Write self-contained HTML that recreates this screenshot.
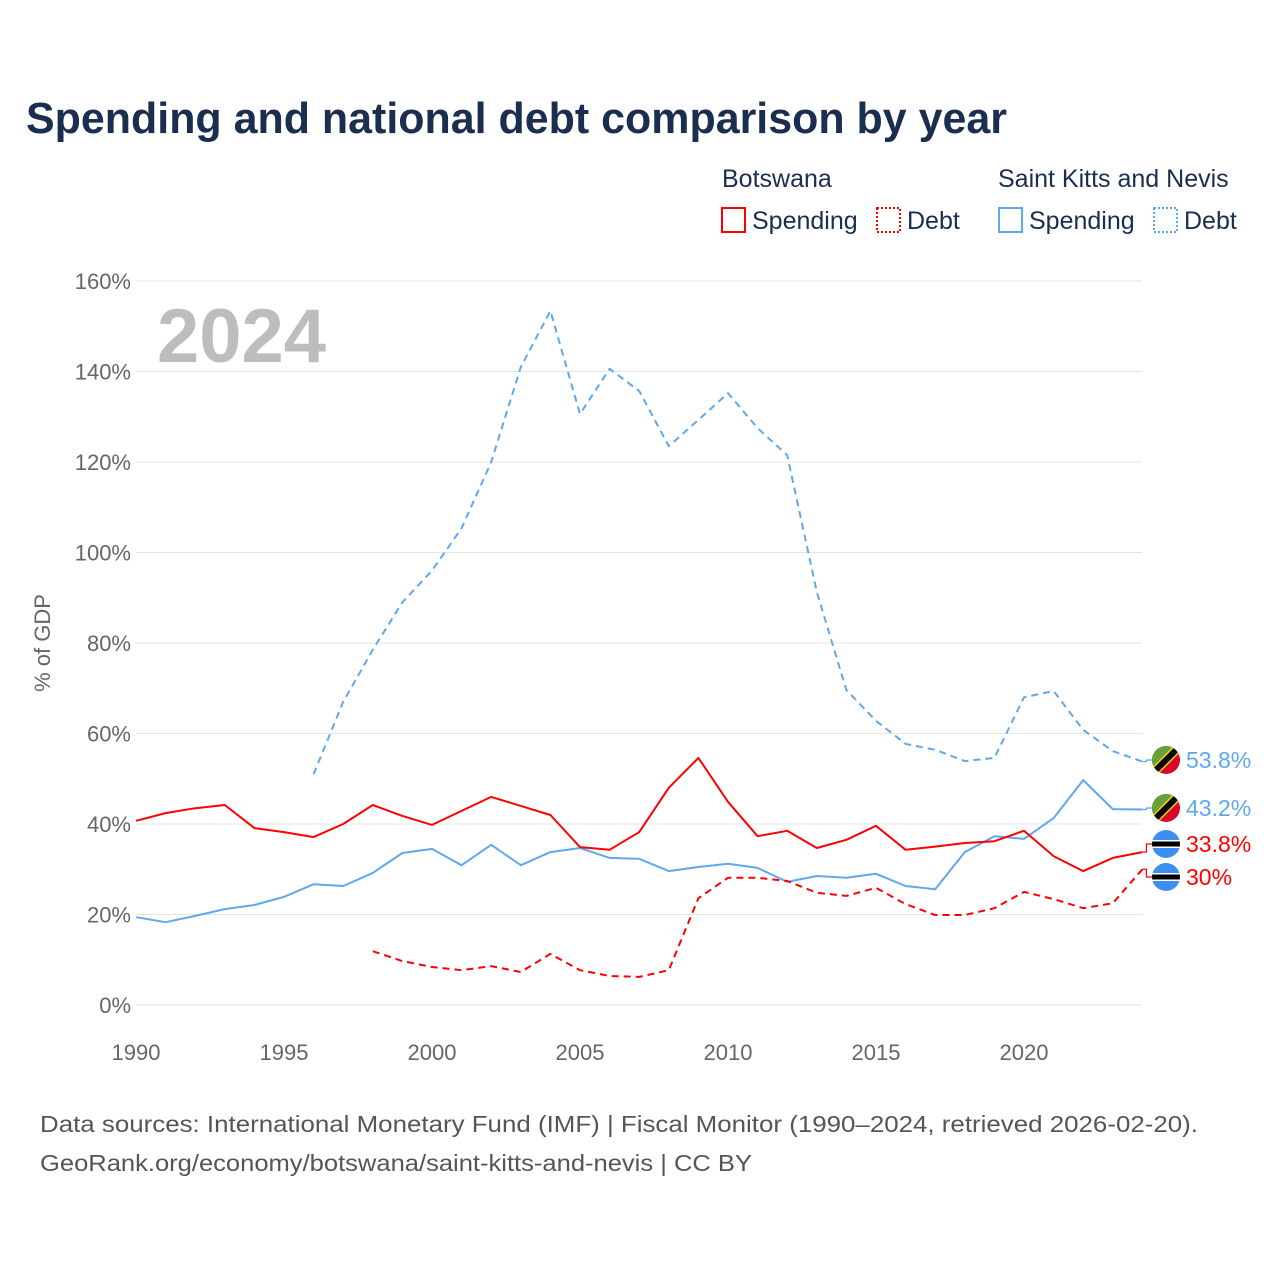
<!DOCTYPE html>
<html><head><meta charset="utf-8">
<style>
body{margin:0;background:#fff;font-family:"Liberation Sans",sans-serif;}
#wrap{position:relative;width:1280px;height:1280px;overflow:hidden;}
</style></head>
<body>
<div id="wrap">
<svg id="chart" width="1280" height="1280" xmlns="http://www.w3.org/2000/svg">
<text x="26" y="133" font-size="44" font-weight="bold" fill="#1a2e4f" textLength="981" lengthAdjust="spacingAndGlyphs">Spending and national debt comparison by year</text>
<g font-size="25" fill="#1a2e4f">
<text x="722" y="187">Botswana</text>
<text x="998" y="187">Saint Kitts and Nevis</text>
<g><rect x="722" y="208" width="23" height="24" fill="none" stroke="#ff0000" stroke-width="2"/><text x="752" y="229">Spending</text></g>
<g><rect x="877" y="208" width="23" height="24" fill="none" stroke="#ff0000" stroke-width="2" stroke-dasharray="2,2"/><text x="907" y="229">Debt</text></g>
<g><rect x="999" y="208" width="23" height="24" fill="none" stroke="#5fa8ef" stroke-width="2"/><text x="1029" y="229">Spending</text></g>
<g><rect x="1154" y="208" width="23" height="24" fill="none" stroke="#5fa8ef" stroke-width="2" stroke-dasharray="2,2"/><text x="1184" y="229">Debt</text></g>
</g>
<text x="157" y="362" font-size="76" font-weight="bold" fill="#bdbdbd">2024</text>
<text transform="translate(50,643) rotate(-90)" text-anchor="middle" font-size="22" fill="#666">% of GDP</text>
<g id="grid"></g><g id="series"></g><g id="labels"></g>
<g font-size="23" fill="#555">
<text x="40" y="1132" textLength="1158" lengthAdjust="spacingAndGlyphs">Data sources: International Monetary Fund (IMF) | Fiscal Monitor (1990–2024, retrieved 2026-02-20).</text>
<text x="40" y="1171" textLength="712" lengthAdjust="spacingAndGlyphs">GeoRank.org/economy/botswana/saint-kitts-and-nevis | CC BY</text>
</g>
</svg>
</div>
<script>
const years=[];for(let y=1990;y<=2024;y++)years.push(y);
const xTicks=[1990,1995,2000,2005,2010,2015,2020];
const yTicks=[0,20,40,60,80,100,120,140,160];
const bwSpending=[40.7,42.4,43.5,44.2,39.1,38.2,37.1,40,44.2,41.8,39.8,42.9,46,44,42,34.9,34.3,38.2,48,54.6,44.9,37.3,38.5,34.7,36.5,39.6,34.3,35,35.8,36.2,38.5,32.9,29.6,32.5,33.8];
const sknSpending=[19.4,18.3,19.7,21.2,22.1,23.9,26.7,26.3,29.2,33.6,34.5,30.9,35.4,30.9,33.8,34.7,32.5,32.3,29.6,30.5,31.2,30.3,27.2,28.5,28.1,29,26.3,25.6,33.8,37.3,36.7,41.3,49.7,43.3,43.2];
const bwDebtYears=[1998,1999,2000,2001,2002,2003,2004,2005,2006,2007,2008,2009,2010,2011,2012,2013,2014,2015,2016,2017,2018,2019,2020,2021,2022,2023,2024];
const bwDebt=[11.9,9.7,8.4,7.7,8.6,7.3,11.3,7.7,6.4,6.2,7.7,23.6,28.1,28.1,27.4,24.8,24.1,25.9,22.3,19.9,19.9,21.4,25,23.4,21.4,22.5,30];
const sknDebtYears=[1996,1997,1998,1999,2000,2001,2002,2003,2004,2005,2006,2007,2008,2009,2010,2011,2012,2013,2014,2015,2016,2017,2018,2019,2020,2021,2022,2023,2024];
const sknDebt=[51,67,78.5,89,96,105.4,120,141,153.4,130.6,140.6,135.7,123.5,129.3,135.2,127.5,121.5,91.3,69.6,62.8,57.7,56.4,53.9,54.6,68,69.4,60.8,56.1,53.8];

const NS='http://www.w3.org/2000/svg';
const X=y=>136+(y-1990)*(888/30);
const Y=v=>1005-v*(724/160);
function mk(tag,attrs,parent){const e=document.createElementNS(NS,tag);for(const k in attrs)e.setAttribute(k,attrs[k]);parent.appendChild(e);return e;}
const grid=document.getElementById('grid'),series=document.getElementById('series'),labels=document.getElementById('labels');
yTicks.forEach(v=>{
  const l=mk('line',{x1:136,x2:1142,y1:Y(v),y2:Y(v),stroke:'#e4e4e4','stroke-width':1},grid);
  
  
  const t=mk('text',{x:131,y:Y(v)+8,'text-anchor':'end','font-size':22,fill:'#666'},grid);
  t.textContent=v+'%';
  
  
});
xTicks.forEach(yr=>{
  const t=mk('text',{x:X(yr),y:1060,'text-anchor':'middle','font-size':22,fill:'#666'},grid);
  t.textContent=yr;
  
  
});
function line(xs,vs,color,dash,name){
  const d=vs.map((v,i)=>(i?'L':'M')+X(xs[i]).toFixed(1)+','+Y(v).toFixed(1)).join(' ');
  const p=mk('path',{d:d,fill:'none',stroke:color,'stroke-width':2,'stroke-linejoin':'round'},series);
  if(dash)p.setAttribute('stroke-dasharray','7,5');
  
  
}
line(sknDebtYears,sknDebt,'#5fa8ef',true,'skn-debt-line');
line(years,sknSpending,'#5fa8ef',false,'skn-spending-line');
line(bwDebtYears,bwDebt,'#ff0000',true,'bw-debt-line');
line(years,bwSpending,'#ff0000',false,'bw-spending-line');

function flag(cy,type,name){
  const cx=1166,r=14;
  const g=mk('g',{},labels);
  
  
  const id='c'+Math.round(cy);
  const cp=mk('clipPath',{id:id},g);mk('circle',{cx:cx,cy:cy,r:r},cp);
  const inner=mk('g',{'clip-path':'url(#'+id+')'},g);
  if(type==='skn'){
    mk('rect',{x:cx-r,y:cy-r,width:2*r,height:2*r,fill:'#d7062b'},inner);
    mk('polygon',{points:`${cx-r},${cy-r} ${cx+r},${cy-r} ${cx-r},${cy+r}`,fill:'#6b9f3e'},inner);
    mk('line',{x1:cx+r,y1:cy-r,x2:cx-r,y2:cy+r,stroke:'#f5d400','stroke-width':9},inner);
    mk('line',{x1:cx+r,y1:cy-r,x2:cx-r,y2:cy+r,stroke:'#000','stroke-width':6},inner);
  } else {
    mk('rect',{x:cx-r,y:cy-r,width:2*r,height:2*r,fill:'#3b8ff0'},inner);
    mk('rect',{x:cx-r,y:cy-4,width:2*r,height:8,fill:'#fff'},inner);
    mk('rect',{x:cx-r,y:cy-2.5,width:2*r,height:5,fill:'#000'},inner);
  }
}
function endLabel(lineVal,labelY,type,color,text,name){
  const x0=X(2024);
  const ly=Y(lineVal);
  const p=mk('path',{d:`M${x0},${ly} L${x0+4},${ly} L${x0+4},${labelY} L${x0+10},${labelY}`,fill:'none',stroke:color,'stroke-width':1.2},labels);
  
  
  flag(labelY,type,name+'-flag');
  const t=mk('text',{x:1186,y:labelY+8,'font-size':23,fill:color},labels);
  t.textContent=text;
  
  
}
endLabel(sknDebt[sknDebt.length-1],760,'skn','#5fa8ef',sknDebt[sknDebt.length-1]+'%','skn-debt-end');
endLabel(sknSpending[sknSpending.length-1],808,'skn','#5fa8ef',sknSpending[sknSpending.length-1]+'%','skn-spending-end');
endLabel(bwSpending[bwSpending.length-1],844,'bw','#ff0000',bwSpending[bwSpending.length-1]+'%','bw-spending-end');
endLabel(bwDebt[bwDebt.length-1],877,'bw','#ff0000',bwDebt[bwDebt.length-1]+'%','bw-debt-end');
</script>
</body></html>
